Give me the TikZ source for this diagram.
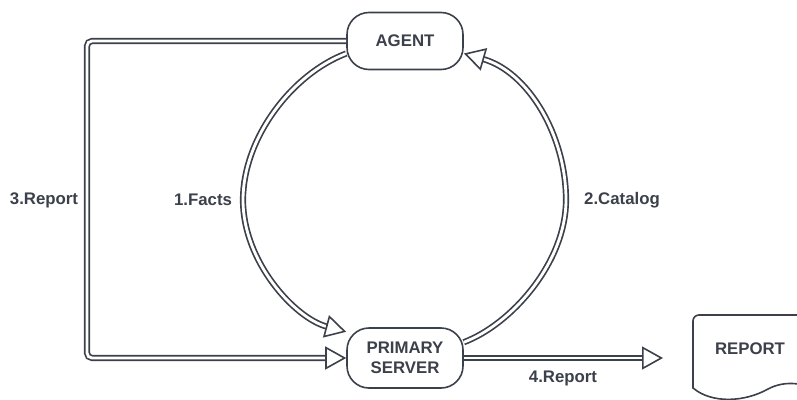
\documentclass[tikz,border=0pt]{standalone}
\usepackage{fontspec}
\setmainfont{Liberation Sans}
\usetikzlibrary{arrows.meta}
\definecolor{ink}{HTML}{3B404A}
\tikzset{
  box/.style={draw=ink, line width=1.6pt, rounded corners=22pt, fill=white,
    minimum width=116pt, text=ink, font=\bfseries\fontsize{16.8}{20}\selectfont, align=center},
  flow/.style={draw=ink, line width=1.7pt, double=white, double distance=2.8pt},
  tip/.style={-{Triangle[open, fill=white, line width=1.6pt, length=21pt, width=23pt]}},
  lbl/.style={text=ink, font=\bfseries\fontsize{16.8}{20}\selectfont, inner sep=0pt}
}
\begin{document}
\begin{tikzpicture}[x=1pt, y=-1pt]
\useasboundingbox (0,0) rectangle (797,399);

% actors
\node[box, minimum height=57pt] (agent) at (405,41) {AGENT};
\node[box, minimum height=60pt] (primary) at (405,358) {PRIMARY\\SERVER};

% report document (runs off the right edge)
\draw[ink, line width=1.6pt, fill=white]
  (693,388) [rounded corners=6pt] -- (693,315) -- (830,315) [sharp corners] -- (830,395)
  .. controls (805,382) and (785,380) .. (768,389)
  .. controls (745,402) and (712,404) .. cycle;
\node[lbl] (doc) at (750,349) {REPORT};

% waypoints of the exchange loop
\coordinate (lmid) at (243,200);
\coordinate (rmid) at (566,200);

% 1. facts: agent -> primary server
\draw[flow, tip] (agent.192) .. controls (292,74) and (243,138) .. (lmid)
  .. controls (243,262) and (295,318) .. (primary.156);
% 2. catalog: primary server -> agent
\draw[flow, tip] (primary.15) .. controls (512,324) and (566,262) .. (rmid)
  .. controls (566,135) and (528,72) .. (agent.-12);
% 3. report: agent -> primary server around the left side
\draw[flow, tip, rounded corners=5pt] (agent.west) -- (87,41) -- (87,358) -- (primary.west);
% 4. report: primary server -> report
\coordinate (out) at (663,358);
\draw[flow, tip] (primary.east) -- (out);

% labels
\node[lbl] (l1) at (203,200) {1.Facts};
\node[lbl] (l2) at (622,200) {2.Catalog};
\node[lbl] (l3) at (44,200) {3.Report};
\node[lbl] (l4) at (563,378) {4.Report};
\end{tikzpicture}
\end{document}
